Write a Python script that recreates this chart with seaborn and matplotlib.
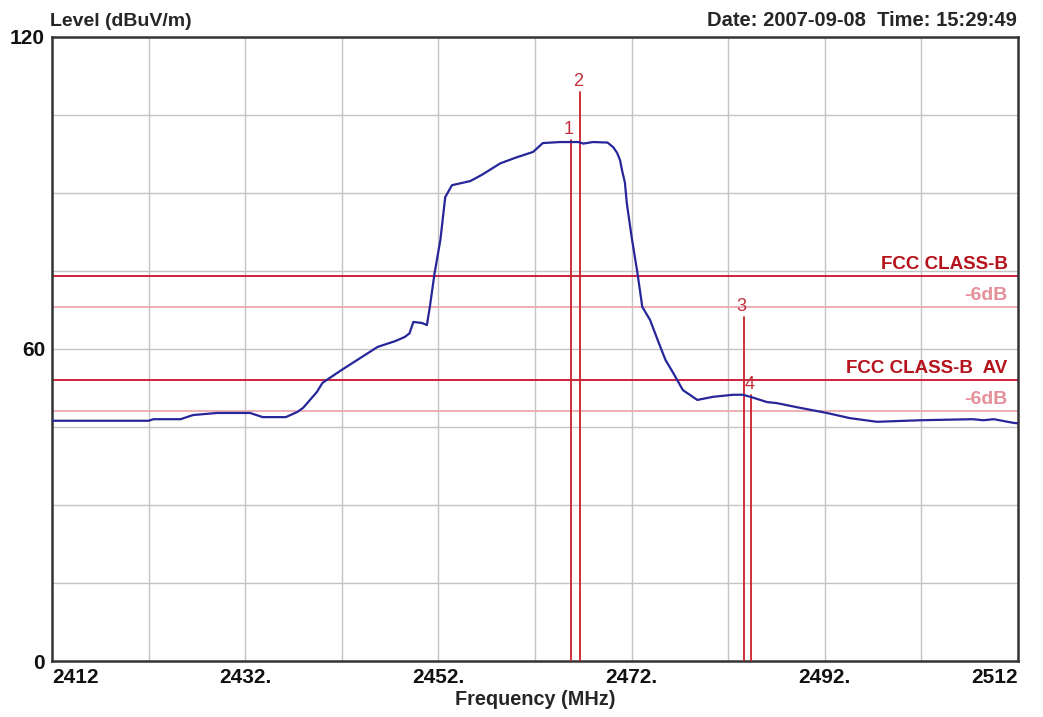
import numpy as np
import pandas as pd
import seaborn as sns
import matplotlib.pyplot as plt

# spectrum trace
freq = [2412.0, 2422.0, 2422.5, 2425.3, 2426.6, 2429.1, 2432.5, 2433.8, 2436.2, 2437.4,
        2438.0, 2439.4, 2440.0, 2442.0, 2443.6, 2445.7, 2447.5, 2448.5, 2449.0, 2449.4,
        2450.3, 2450.8, 2451.1, 2451.6, 2452.2, 2452.7, 2453.4, 2455.3, 2456.5, 2458.4,
        2460.0, 2461.8, 2462.8, 2464.6, 2466.5, 2467.0, 2468.0, 2469.5, 2470.1, 2470.5,
        2470.8, 2471.0, 2471.3, 2471.5, 2472.0, 2472.6, 2473.1, 2473.9, 2474.7, 2475.5,
        2476.3, 2477.3, 2478.8, 2480.4, 2482.5, 2483.5, 2484.3, 2486.0, 2487.0, 2489.4,
        2492.2, 2494.6, 2497.4, 2501.9, 2507.3, 2508.4, 2509.5, 2511.5, 2512.0]
level = [46.2, 46.2, 46.5, 46.5, 47.3, 47.7, 47.7, 46.9, 46.9, 47.9,
         48.7, 51.7, 53.5, 56.0, 57.9, 60.4, 61.5, 62.3, 63.0, 65.2,
         65.0, 64.6, 68.0, 74.6, 81.0, 89.2, 91.5, 92.3, 93.5, 95.7,
         96.8, 97.9, 99.6, 99.8, 99.8, 99.5, 99.8, 99.7, 98.8, 97.7,
         96.3, 94.4, 92.0, 88.0, 81.5, 74.6, 68.1, 65.6, 61.7, 57.9,
         55.4, 52.1, 50.2, 50.8, 51.2, 51.2, 50.8, 49.8, 49.6, 48.7,
         47.7, 46.7, 46.0, 46.3, 46.5, 46.3, 46.5, 45.8, 45.7]

# limit lines
limit_names = ["FCC CLASS-B", "-6dB", "FCC CLASS-B  AV", "-6dB"]
limit_levels = [74, 68, 54, 48]
limit_main = [True, False, True, False]

# markers
marker_ids = ["1", "2", "3", "4"]
marker_freq = [2465.7, 2466.7, 2483.6, 2484.4]
marker_top = [100.2, 109.4, 66.2, 51.2]

xtick_vals = [2412, 2432, 2452, 2472, 2492, 2512]
xtick_labels = ["2412", "2432.", "2452.", "2472.", "2492.", "2512"]
ytick_vals = [0, 60, 120]

df = pd.DataFrame({"Frequency": freq, "Level": level})

sns.set_style("white")
plt.rcParams['font.family'] = ['Liberation Sans', 'DejaVu Sans']

fig = plt.figure(figsize=(10.43, 7.17), dpi=100)
ax = fig.add_axes([0.0499, 0.0781, 0.9262, 0.8703])

ax.set_xlim(2412, 2512)
ax.set_ylim(0, 120)

# grid every 10 MHz / 15 dB
for gx in np.arange(2422, 2512, 10):
    ax.axvline(gx, color='#c4c4c4', lw=1.0, zorder=0)
for gy in np.arange(15, 120, 15):
    ax.axhline(gy, color='#c4c4c4', lw=1.0, zorder=0)

for name, lv, main in zip(limit_names, limit_levels, limit_main):
    if main:
        ax.axhline(lv, color='#c8102e', lw=1.3, zorder=2)
        ax.text(2510.9, lv + 0.7, name, color='#b5121b', fontsize=13.5,
                fontweight='bold', ha='right', va='bottom')
    else:
        ax.axhline(lv, color='#eaa3a8', lw=1.2, zorder=2)
        ax.text(2510.9, lv + 0.6, name, color='#e58f98', fontsize=14,
                fontweight='bold', ha='right', va='bottom')

for mid, mf, mt in zip(marker_ids, marker_freq, marker_top):
    ax.plot([mf, mf], [0, mt], color='#cc1f2a', lw=1.3, zorder=3)
    ax.text(mf - 0.2, mt + 0.4, mid, color='#c0303a', fontsize=13,
            ha='center', va='bottom')

sns.lineplot(data=df, x="Frequency", y="Level", color='#26269a', lw=1.6,
             ax=ax, zorder=4)

ax.set_xticks(xtick_vals)
ax.set_xticklabels(xtick_labels, fontsize=15, fontweight='bold')
for i, t in enumerate(ax.get_xticklabels()):
    if i == 0:
        t.set_ha('left')
    elif i == len(xtick_vals) - 1:
        t.set_ha('right')
ax.set_yticks(ytick_vals)
ax.set_yticklabels([str(v) for v in ytick_vals], fontsize=15, fontweight='bold')
ax.tick_params(axis='both', length=0, pad=5, colors='#111111')

for s in ax.spines.values():
    s.set_color('#333333')
    s.set_linewidth(1.8)

ax.set_xlabel("Frequency (MHz)", fontsize=14.3, fontweight='bold', labelpad=2)
ax.set_ylabel("")

fig.text(0.048, 0.958, "Level (dBuV/m)", fontsize=14, fontweight='bold',
         ha='left', va='bottom')
fig.text(0.975, 0.958, "Date: 2007-09-08  Time: 15:29:49", fontsize=14.5,
         fontweight='bold', ha='right', va='bottom')

fig.savefig("out.png", dpi=100)
